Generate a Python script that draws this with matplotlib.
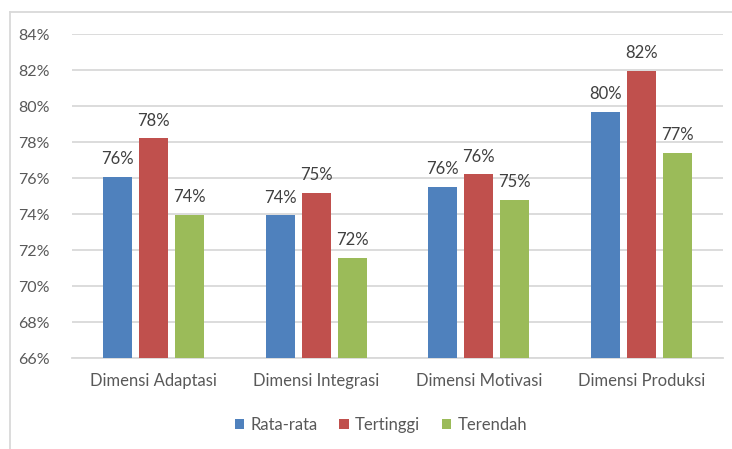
import matplotlib
matplotlib.use("Agg")
import matplotlib.pyplot as plt
import numpy as np
from matplotlib.lines import Line2D

categories = ["Dimensi Adaptasi", "Dimensi Integrasi", "Dimensi Motivasi", "Dimensi Produksi"]
series_names = ["Rata-rata", "Tertinggi", "Terendah"]
rata_rata = [76.07, 73.92, 75.52, 79.66]
tertinggi = [78.20, 75.16, 76.20, 81.97]
terendah = [73.95, 71.56, 74.79, 77.38]
y_ticks = [66, 68, 70, 72, 74, 76, 78, 80, 82, 84]
colors = ["#4F81BD", "#C0504D", "#9BBB59"]

plt.rcParams['font.family'] = ['Lato', 'DejaVu Sans']

W, H = 732, 449
fig = plt.figure(figsize=(W / 100, H / 100), dpi=100)
ax = fig.add_axes([72 / W, (H - 358) / H, 651 / W, 324 / H])

x = np.arange(len(categories))
width = 0.178
step = 0.221
for i, (name, vals, c) in enumerate(zip(series_names, [rata_rata, tertinggi, terendah], colors)):
    pos = x + (i - 1) * step
    ax.bar(pos, [v - y_ticks[0] for v in vals], width, bottom=y_ticks[0],
           color=c, label=name, zorder=3)
    for p, v in zip(pos, vals):
        ax.annotate(f"{round(v):d}%", (p, v), xytext=(0, 7), textcoords="offset points",
                    ha="center", va="bottom", fontsize=12, color="#404040")

ax.set_xlim(-0.5, len(categories) - 0.5)
ax.set_ylim(y_ticks[0], y_ticks[-1])
ax.set_yticks(y_ticks)
ax.set_yticklabels([f"{t}%" for t in y_ticks])
ax.set_xticks(x)
ax.set_xticklabels(categories)
ax.tick_params(axis="both", length=0, labelcolor="#595959")
ax.tick_params(axis="y", pad=16, labelsize=11.5)
ax.tick_params(axis="x", pad=11, labelsize=12)
ax.grid(axis="y", color="#D9D9D9", linewidth=1.3, zorder=0)
for s in ["top", "right", "left"]:
    ax.spines[s].set_visible(False)
ax.spines["bottom"].set_color("#D9D9D9")
ax.spines["bottom"].set_linewidth(1.3)

# outer chart border (left and top visible)
fig.add_artist(Line2D([10 / W, 10 / W], [0, 1 - 12 / H], color="#D9D9D9", lw=1.3, transform=fig.transFigure))
fig.add_artist(Line2D([10 / W, 1], [1 - 12 / H, 1 - 12 / H], color="#D9D9D9", lw=1.3, transform=fig.transFigure))

handles, labels = ax.get_legend_handles_labels()
fig.legend(handles, labels, loc="center", bbox_to_anchor=(381 / W, 1 - 425 / H), ncol=3,
           frameon=False, fontsize=12, labelcolor="#595959", handlelength=0.55,
           handleheight=0.55, handletextpad=0.4, columnspacing=1.3)

fig.savefig("out.png", dpi=100)
